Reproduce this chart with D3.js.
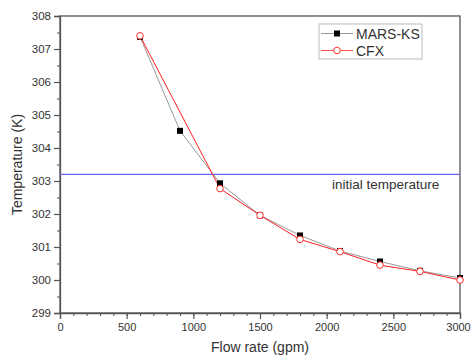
<!DOCTYPE html>
<html>
<head>
<meta charset="utf-8">
<script src="https://cdn.jsdelivr.net/npm/d3@7"></script>
<style>
  body { margin: 0; background: #fff; }
  text { font-family: "Liberation Sans", Arial, sans-serif; fill: #333; }
</style>
</head>
<body>
<div id="chart"></div>
<script>
// data
const marsFlow = [600, 900, 1200, 1500, 1800, 2100, 2400, 2700, 3000]
const marsTemp = [307.37, 304.52, 302.93, 301.96, 301.35, 300.88, 300.56, 300.28, 300.06]
const cfxFlow = [600, 1200, 1500, 1800, 2100, 2400, 2700, 3000]
const cfxTemp = [307.4, 302.77, 301.96, 301.23, 300.86, 300.45, 300.26, 300.0]
const initialTemp = 303.2
const xTicks = [0, 500, 1000, 1500, 2000, 2500, 3000]
const yTicks = [299, 300, 301, 302, 303, 304, 305, 306, 307, 308]

const width = 471
const height = 358
const margin = { top: 16, right: 11, bottom: 45, left: 60 }

const svg = d3.select("#chart")
  .append("svg")
  .attr("width", width)
  .attr("height", height)

const x = d3.scaleLinear().domain([0, 3000]).range([margin.left, width - margin.right])
const y = d3.scaleLinear().domain([299, 308]).range([height - margin.bottom, margin.top])

const axisColor = "#555"

//frame
svg.append("rect")
  .attr("x", x(0))
  .attr("y", y(308))
  .attr("width", x(3000) - x(0))
  .attr("height", y(299) - y(308))
  .attr("fill", "none")
  .attr("stroke", axisColor)
  .attr("stroke-width", 1.3)

//minor ticks
const xAxisMinor = d3.axisBottom(x).tickValues(d3.range(0, 3001, 100)).tickSize(3).tickFormat("")
const yAxisMinor = d3.axisLeft(y).tickValues(d3.range(299, 308.01, 0.5)).tickSize(3).tickFormat("")

svg.append("g")
  .attr("transform", `translate(0,${y(299)})`)
  .call(xAxisMinor)
  .call(g => g.select(".domain").remove())
  .call(g => g.selectAll("line").attr("stroke", axisColor))
svg.append("g")
  .attr("transform", `translate(${x(0)},0)`)
  .call(yAxisMinor)
  .call(g => g.select(".domain").remove())
  .call(g => g.selectAll("line").attr("stroke", axisColor))

//major ticks
svg.append("g")
  .attr("transform", `translate(0,${y(299)})`)
  .call(d3.axisBottom(x).tickValues(xTicks).tickSize(6).tickPadding(4).tickFormat(d3.format("d")))
  .call(g => g.select(".domain").attr("stroke", axisColor).attr("stroke-width", 1.3))
  .call(g => g.selectAll("line").attr("stroke", axisColor).attr("stroke-width", 1.2))
  .call(g => g.selectAll("text").style("font-size", "11px").style("font-family", "Liberation Sans, Arial, sans-serif").attr("fill", "#333"))
  .call(g => g.selectAll("text").filter(d => d === 3000).attr("dx", -2))

svg.append("g")
  .attr("transform", `translate(${x(0)},0)`)
  .call(d3.axisLeft(y).tickValues(yTicks).tickSize(6).tickPadding(3).tickFormat(d3.format("d")))
  .call(g => g.select(".domain").attr("stroke", axisColor).attr("stroke-width", 1.3))
  .call(g => g.selectAll("line").attr("stroke", axisColor).attr("stroke-width", 1.2))
  .call(g => g.selectAll("text").style("font-size", "11.5px").style("font-family", "Liberation Sans, Arial, sans-serif").attr("fill", "#333"))

//axis titles
svg.append("text")
  .attr("x", (x(0) + x(3000)) / 2)
  .attr("y", 352)
  .attr("text-anchor", "middle")
  .style("font-size", "14px")
  .text("Flow rate (gpm)")

svg.append("text")
  .attr("transform", `translate(22,${(y(299) + y(308)) / 2}) rotate(-90)`)
  .attr("text-anchor", "middle")
  .style("font-size", "14px")
  .text("Temperature (K)")

//initial temperature line
svg.append("line")
  .attr("x1", x(0))
  .attr("x2", x(3000))
  .attr("y1", y(initialTemp))
  .attr("y2", y(initialTemp))
  .attr("stroke", "#6666ff")
  .attr("stroke-width", 1.2)

svg.append("text")
  .attr("x", x(2040))
  .attr("y", y(initialTemp) + 15)
  .style("font-size", "13.5px")
  .text("initial temperature")

const mars = marsFlow.map((d, i) => ({ x: d, y: marsTemp[i] }))
const cfx = cfxFlow.map((d, i) => ({ x: d, y: cfxTemp[i] }))

const line = d3.line().x(d => x(d.x)).y(d => y(d.y))

svg.append("path")
  .datum(mars)
  .attr("d", line)
  .attr("fill", "none")
  .attr("stroke", "#999")
  .attr("stroke-width", 1)

svg.append("path")
  .datum(cfx)
  .attr("d", line)
  .attr("fill", "none")
  .attr("stroke", "#ff2020")
  .attr("stroke-width", 1)

svg.append("g")
  .selectAll("rect")
  .data(mars)
  .join("rect")
  .attr("x", d => x(d.x) - 3)
  .attr("y", d => y(d.y) - 3)
  .attr("width", 6)
  .attr("height", 6)
  .attr("fill", "#000")

svg.append("g")
  .selectAll("circle")
  .data(cfx)
  .join("circle")
  .attr("cx", d => x(d.x))
  .attr("cy", d => y(d.y))
  .attr("r", 3.3)
  .attr("fill", "#fff")
  .attr("stroke", "#ff3030")
  .attr("stroke-width", 1)

//legend
const legend = svg.append("g").attr("transform", "translate(319,24)")
legend.append("rect")
  .attr("width", 103)
  .attr("height", 35)
  .attr("fill", "#fff")
  .attr("stroke", "#bbb")
  .attr("stroke-width", 1)

legend.append("line")
  .attr("x1", 2).attr("x2", 34).attr("y1", 9.5).attr("y2", 9.5)
  .attr("stroke", "#999")
legend.append("rect")
  .attr("x", 15).attr("y", 6.5).attr("width", 6).attr("height", 6)
  .attr("fill", "#000")
legend.append("text")
  .attr("x", 37).attr("y", 14.5)
  .style("font-size", "14px")
  .text("MARS-KS")

legend.append("line")
  .attr("x1", 2).attr("x2", 34).attr("y1", 26.5).attr("y2", 26.5)
  .attr("stroke", "#ff5050")
legend.append("circle")
  .attr("cx", 18).attr("cy", 26.5).attr("r", 3.3)
  .attr("fill", "#fff").attr("stroke", "#ff3030")
legend.append("text")
  .attr("x", 37).attr("y", 31.5)
  .style("font-size", "14px")
  .text("CFX")
</script>
</body>
</html>
